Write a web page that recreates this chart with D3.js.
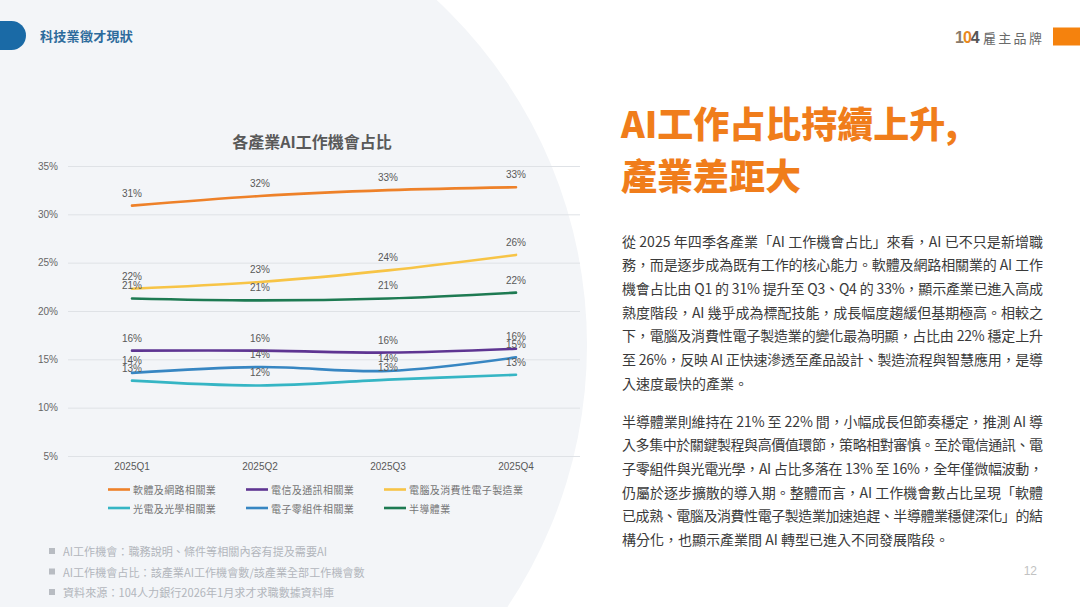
<!DOCTYPE html>
<html lang="zh-TW">
<head>
<meta charset="utf-8">
<script src="https://cdn.jsdelivr.net/npm/d3@7"></script>
<style>
	html, body { margin: 0; padding: 0; background: #ffffff; }
	svg { display: block; }
</style>
</head>
<body>
<svg id="slide" width="1080" height="607" lang="zh-TW"></svg>
<script>
// chart data
var quarters = ["2025Q1", "2025Q2", "2025Q3", "2025Q4"];
var industries = ["軟體及網路相關業", "電信及通訊相關業", "電腦及消費性電子製造業", "光電及光學相關業", "電子零組件相關業", "半導體業"];
var software = [30.9, 31.9, 32.5, 32.8];
var telecom = [15.9, 15.9, 15.7, 16.1];
var computer = [22.3, 23.0, 24.2, 25.8];
var optics = [12.8, 12.3, 12.9, 13.4];
var components = [13.6, 14.2, 13.8, 15.2];
var semiconductor = [21.3, 21.1, 21.3, 21.9];
var yTickValues = [5, 10, 15, 20, 25, 30, 35];

var notes = [
	"AI工作機會：職務說明、條件等相關內容有提及需要AI",
	"AI工作機會占比：該產業AI工作機會數/該產業全部工作機會數",
	"資料來源：104人力銀行2026年1月求才求職數據資料庫"
];
var para1 = [
	"從 2025 年四季各產業「AI 工作機會占比」來看，AI 已不只是新增職",
	"務，而是逐步成為既有工作的核心能力。軟體及網路相關業的 AI 工作",
	"機會占比由 Q1 的 31% 提升至 Q3、Q4 的 33%，顯示產業已進入高成",
	"熟度階段，AI 幾乎成為標配技能，成長幅度趨緩但基期極高。相較之",
	"下，電腦及消費性電子製造業的變化最為明顯，占比由 22% 穩定上升",
	"至 26%，反映 AI 正快速滲透至產品設計、製造流程與智慧應用，是導",
	"入速度最快的產業。"
];
var para2 = [
	"半導體業則維持在 21% 至 22% 間，小幅成長但節奏穩定，推測 AI 導",
	"入多集中於關鍵製程與高價值環節，策略相對審慎。至於電信通訊、電",
	"子零組件與光電光學，AI 占比多落在 13% 至 16%，全年僅微幅波動，",
	"仍屬於逐步擴散的導入期。整體而言，AI 工作機會數占比呈現「軟體",
	"已成熟、電腦及消費性電子製造業加速追趕、半導體業穩健深化」的結",
	"構分化，也顯示產業間 AI 轉型已進入不同發展階段。"
];

(function () {
	"use strict";
	var cjk = "'Noto Sans CJK TC', 'Noto Sans', sans-serif";
	var chartFont = "'Liberation Sans', Arial, 'Noto Sans CJK TC', sans-serif";
	var colors = ["#ee8129", "#5e3592", "#f7c446", "#35b5c4", "#3786c2", "#1d7a52"];
	var seriesValues = [software, telecom, computer, optics, components, semiconductor];

	var series = industries.map(function (name, i) {
		return { name: name, color: colors[i], values: seriesValues[i] };
	});

	var svg = d3.select("#slide");

	// background: white page with a large pale disc on the left
	svg.append("rect").attr("width", 1080).attr("height", 607).attr("fill", "#ffffff");
	svg.append("circle")
		.attr("cx", 116)
		.attr("cy", 345)
		.attr("r", 471)
		.attr("fill", "#f3f5f8");

	// header
	svg.append("rect")
		.attr("x", -20).attr("y", 21)
		.attr("width", 46).attr("height", 29)
		.attr("rx", 14.5)
		.attr("fill", "#1a6aa6");
	svg.append("text")
		.attr("x", 40).attr("y", 35.5)
		.attr("dominant-baseline", "central")
		.style("font-family", cjk)
		.style("font-size", "13px")
		.style("font-weight", 700)
		.style("letter-spacing", "0.3px")
		.attr("fill", "#2d6b9c")
		.text("科技業徵才現狀");

	// logo
	var logo = svg.append("text")
		.attr("x", 955).attr("y", 37)
		.attr("dominant-baseline", "central")
		.style("font-family", chartFont)
		.style("font-size", "16px")
		.style("font-weight", 700)
		.style("letter-spacing", "-1px")
		.attr("fill", "#555555");
	logo.append("tspan").attr("fill", "#8a7a6a").text("1");
	logo.append("tspan").attr("fill", "#e8891e").text("0");
	logo.append("tspan").text("4");
	svg.append("text")
		.attr("x", 983).attr("y", 37)
		.attr("dominant-baseline", "central")
		.style("font-family", cjk)
		.style("font-size", "13px")
		.style("letter-spacing", "2.3px")
		.attr("fill", "#6a6a6a")
		.text("雇主品牌");
	svg.append("rect")
		.attr("x", 1053).attr("y", 27.5)
		.attr("width", 30).attr("height", 18)
		.attr("fill", "#f5820d");

	// chart
	var xScale = d3.scaleBand().domain(quarters).range([68, 580]);
	var yScale = d3.scaleLinear().domain([5, 35]).range([456, 166]);
	var xPos = function (d, i) {
		return xScale(quarters[i]) + xScale.bandwidth() / 2;
	};

	svg.append("text")
		.attr("x", 312).attr("y", 141)
		.attr("text-anchor", "middle")
		.attr("dominant-baseline", "central")
		.style("font-family", cjk)
		.style("font-size", "16px")
		.style("font-weight", 700)
		.attr("fill", "#595959")
		.text("各產業AI工作機會占比");

	var chart = svg.append("g").attr("class", "chart");

	var yAxis = d3.axisLeft(yScale)
		.tickValues(yTickValues)
		.tickSize(-(xScale.range()[1] - xScale.range()[0]))
		.tickPadding(10)
		.tickFormat(function (d) { return d + "%"; });
	var yG = chart.append("g")
		.attr("transform", "translate(" + xScale.range()[0] + ",0)")
		.call(yAxis);
	yG.select(".domain").remove();
	yG.selectAll(".tick line").attr("stroke", "#dfe2e6").attr("stroke-width", 1);
	yG.selectAll(".tick text")
		.style("font-family", chartFont)
		.style("font-size", "10px")
		.attr("fill", "#666666");

	var xAxis = d3.axisBottom(xScale).tickSize(0).tickPadding(0);
	var xG = chart.append("g")
		.attr("transform", "translate(0,463)")
		.call(xAxis);
	xG.select(".domain").remove();
	xG.selectAll(".tick text")
		.attr("dy", "0.71em")
		.style("font-family", chartFont)
		.style("font-size", "10px")
		.attr("fill", "#595959");

	var line = d3.line()
		.x(xPos)
		.y(function (d) { return yScale(d); })
		.curve(d3.curveCatmullRom.alpha(0.5));

	chart.selectAll(".series-line").data(series)
		.enter()
		.append("path")
		.attr("class", "series-line")
		.attr("d", function (d) { return line(d.values); })
		.attr("fill", "none")
		.attr("stroke", function (d) { return d.color; })
		.attr("stroke-width", 2.6)
		.attr("stroke-linecap", "round");

	var labelGroups = chart.selectAll(".series-labels").data(series)
		.enter()
		.append("g")
		.attr("class", "series-labels");
	labelGroups.selectAll("text")
		.data(function (d) { return d.values; })
		.enter()
		.append("text")
		.attr("x", xPos)
		.attr("y", function (d) { return yScale(d) - 9; })
		.attr("text-anchor", "middle")
		.style("font-family", chartFont)
		.style("font-size", "10px")
		.attr("fill", "#595959")
		.text(function (d) { return Math.round(d) + "%"; });

	// legend, two rows of three
	var legend = chart.selectAll(".legend-item").data(series)
		.enter()
		.append("g")
		.attr("class", "legend-item")
		.attr("transform", function (d, i) {
			return "translate(" + (108 + (i % 3) * 138) + "," + (489.5 + Math.floor(i / 3) * 18.5) + ")";
		});
	legend.append("line")
		.attr("x1", 0).attr("x2", 22)
		.attr("y1", 0).attr("y2", 0)
		.attr("stroke", function (d) { return d.color; })
		.attr("stroke-width", 2.6);
	legend.append("text")
		.attr("x", 25).attr("y", 0)
		.attr("dominant-baseline", "central")
		.style("font-family", cjk)
		.style("font-size", "10px")
		.style("letter-spacing", "0.4px")
		.attr("fill", "#767676")
		.text(function (d) { return d.name; });

	// notes
	var noteRows = svg.selectAll(".note").data(notes)
		.enter()
		.append("g")
		.attr("class", "note")
		.attr("transform", function (d, i) { return "translate(0," + (551 + i * 20.5) + ")"; });
	noteRows.append("rect")
		.attr("x", 49).attr("y", -3)
		.attr("width", 6).attr("height", 6)
		.attr("fill", "#b8bcc2");
	noteRows.append("text")
		.attr("x", 63).attr("y", 0)
		.attr("dominant-baseline", "central")
		.style("font-family", cjk)
		.style("font-size", "11.1px")
		.attr("fill", "#b2b6bc")
		.text(function (d) { return d; });

	// right column
	svg.selectAll(".headline").data(["AI工作占比持續上升,", "產業差距大"])
		.enter()
		.append("text")
		.attr("class", "headline")
		.attr("x", 621)
		.attr("y", function (d, i) { return 122 + i * 52; })
		.attr("dominant-baseline", "central")
		.style("font-family", cjk)
		.style("font-size", "36px")
		.style("font-weight", 900)
		.attr("fill", "#f07d1b")
		.text(function (d) { return d; });

	var bodyText = function (lines, top) {
		svg.append("g").selectAll("text").data(lines)
			.enter()
			.append("text")
			.attr("lang", "zh-TW")
			.attr("x", 622)
			.attr("y", function (d, i) { return top + i * 23.7; })
			.attr("dominant-baseline", "central")
			.attr("textLength", function (d, i) { return i < lines.length - 1 ? 421 : null; })
			.attr("lengthAdjust", "spacing")
			.style("font-family", cjk)
			.style("font-size", "14px")
			.attr("fill", "#3a3a3a")
			.text(function (d) { return d; });
	};
	bodyText(para1, 240.5);
	bodyText(para2, 420.5);

	svg.append("text")
		.attr("x", 1037).attr("y", 571)
		.attr("text-anchor", "end")
		.attr("dominant-baseline", "central")
		.style("font-family", chartFont)
		.style("font-size", "12px")
		.attr("fill", "#c2c2c2")
		.text("12");
})();
</script>
</body>
</html>
